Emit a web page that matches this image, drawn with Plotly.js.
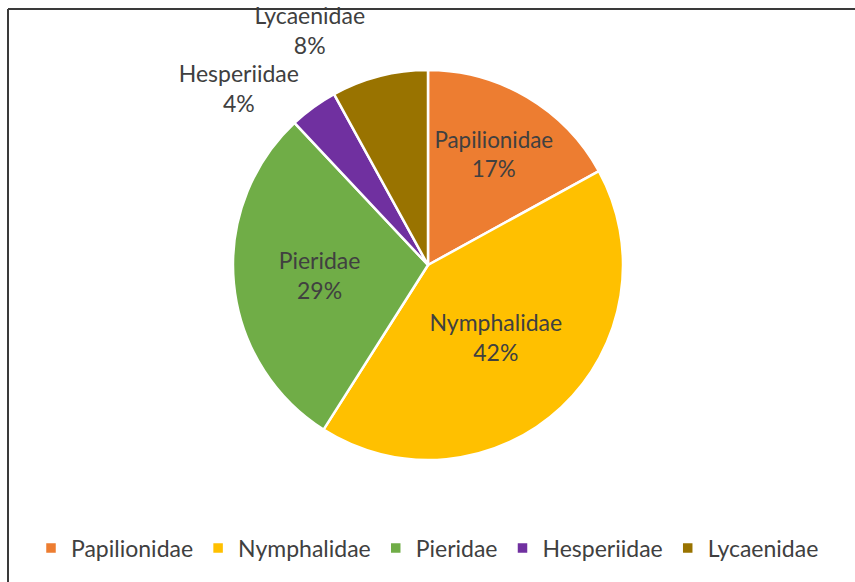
<!DOCTYPE html>
<html>
<head>
<meta charset="utf-8">
<script src="https://cdn.plot.ly/plotly-3.0.1.min.js"></script>
<style>html,body{margin:0;padding:0;background:#fff;}#chart{width:855px;height:582px;}
.pielayer path.textline{display:none;}</style>
</head>
<body>
<div id="chart"></div>
<script>
const families = ["Papilionidae", "Nymphalidae", "Pieridae", "Hesperiidae", "Lycaenidae"];
const shares = [17, 42, 29, 4, 8];
const colors = ["#ED7D31", "#FFC000", "#70AD47", "#7030A0", "#997300"];
const labelPositions = ["inside", "inside", "inside", "outside", "outside"];

const W = 855, H = 582;
const fontFam = "Lato, 'Open Sans', sans-serif";
const fs = 23;

const trace = {
  type: "pie",
  labels: families,
  values: shares,
  sort: false,
  direction: "clockwise",
  rotation: 0,
  marker: {colors: colors, line: {color: "#ffffff", width: 2.5}},
  textinfo: "label+percent",
  textposition: labelPositions,
  insidetextorientation: "horizontal",
  insidetextfont: {family: fontFam, size: fs, color: "#404040"},
  outsidetextfont: {family: fontFam, size: fs, color: "#404040"},
  hoverinfo: "label+percent",
  domain: {x: [233 / W, 623 / W], y: [1 - 460 / H, 1 - 70 / H]},
  automargin: false
};

const layout = {
  width: W, height: H,
  margin: {l: 0, r: 0, t: 0, b: 0},
  paper_bgcolor: "#ffffff",
  font: {family: fontFam, size: fs, color: "#404040"},
  showlegend: true,
  legend: {
    orientation: "h",
    x: 0.5, xanchor: "center",
    y: 1 - 548 / H, yanchor: "middle",
    font: {family: fontFam, size: fs, color: "#404040"},
    itemwidth: 30,
    traceorder: "normal"
  },
  shapes: [
    {type: "line", xref: "paper", yref: "paper", x0: 8 / W, x1: 8 / W, y0: 0, y1: 1 - 9 / H, line: {color: "#3a3a3a", width: 2}},
    {type: "line", xref: "paper", yref: "paper", x0: 8 / W, x1: 1, y0: 1 - 9 / H, y1: 1 - 9 / H, line: {color: "#3a3a3a", width: 2}}
  ]
};

Plotly.newPlot("chart", [trace], layout, {displayModeBar: false, staticPlot: true});
</script>
</body>
</html>
